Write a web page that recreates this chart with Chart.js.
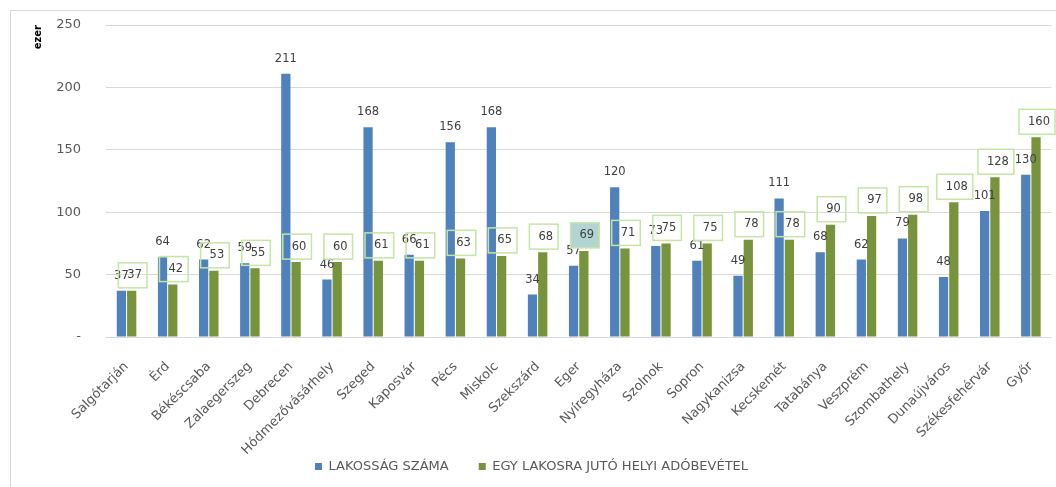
<!DOCTYPE html>
<html>
<head>
<meta charset="utf-8">
<script src="https://cdn.jsdelivr.net/npm/chart.js@4.4.1/dist/chart.umd.min.js"></script>
<style>
  body { margin: 0; background: #fff; }
  .frame {
    position: absolute; left: 10px; top: 10px; width: 1046px; height: 477px;
    border-left: 1px solid #d9d9d9; border-top: 1px solid #d9d9d9;
  }
  canvas { display: block; }
</style>
</head>
<body>
<div class="frame"><canvas id="chart" width="1045" height="476"></canvas></div>
<script>
const cities = ['Salgótarján', 'Érd', 'Békéscsaba', 'Zalaegerszeg', 'Debrecen', 'Hódmezővásárhely',
  'Szeged', 'Kaposvár', 'Pécs', 'Miskolc', 'Szekszárd', 'Eger', 'Nyíregyháza', 'Szolnok', 'Sopron',
  'Nagykanizsa', 'Kecskemét', 'Tatabánya', 'Veszprém', 'Szombathely', 'Dunaújváros',
  'Székesfehérvár', 'Győr'];
const population = [37, 64, 62, 59, 211, 46, 168, 66, 156, 168, 34, 57, 120, 73, 61, 49, 111, 68, 62, 79, 48, 101, 130];
const taxPerHead = [37, 42, 53, 55, 60, 60, 61, 61, 63, 65, 68, 69, 71, 75, 75, 78, 78, 90, 97, 98, 108, 128, 160];
const yTicks = [0, 50, 100, 150, 200, 250];

const FONT = '"DejaVu Sans", sans-serif';

// value labels: plain above blue bars, boxed above green bars
const barLabels = {
  id: 'barLabels',
  afterLayout(chart) {
    // long rotated city names run past the x box, don't clip them
    chart.scales.x.bottom = chart.height;
  },
  afterDatasetsDraw(chart) {
    const ctx = chart.ctx;
    ctx.save();
    ctx.font = '11.5px ' + FONT;
    ctx.textAlign = 'center';
    ctx.textBaseline = 'middle';
    chart.getDatasetMeta(0).data.forEach((bar, i) => {
      ctx.fillStyle = '#404040';
      ctx.fillText(String(population[i]), bar.x, bar.y - 15);
    });
    chart.getDatasetMeta(1).data.forEach((bar, i) => {
      const txt = String(taxPerHead[i]);
      const w = ctx.measureText(txt).width + 14;
      const h = 25;
      const x = bar.x - w / 2 + 1;
      const y = bar.y - 3 - h;
      if (cities[i] === 'Eger') {
        ctx.fillStyle = '#b2d5d3';
        ctx.fillRect(x, y, w, h);
      }
      ctx.strokeStyle = '#c5e5a5';
      ctx.lineWidth = 1.5;
      ctx.strokeRect(x, y, w, h);
      ctx.fillStyle = '#404040';
      ctx.fillText(txt, x + w / 2 + 2, y + h / 2);
    });
    ctx.restore();
  }
};

new Chart(document.getElementById('chart'), {
  type: 'bar',
  data: {
    labels: cities,
    datasets: [
      {
        label: 'LAKOSSÁG SZÁMA',
        data: population,
        backgroundColor: '#4f81bd',
        categoryPercentage: 0.5,
        barPercentage: 0.9
      },
      {
        label: 'EGY LAKOSRA JUTÓ HELYI ADÓBEVÉTEL',
        data: taxPerHead,
        backgroundColor: '#77933c',
        categoryPercentage: 0.5,
        barPercentage: 0.9
      }
    ]
  },
  options: {
    responsive: false,
    animation: false,
    layout: { padding: { top: 14, right: 4, left: 0, bottom: 4 } },
    plugins: {
      legend: {
        position: 'bottom',
        labels: {
          boxWidth: 7, boxHeight: 7, padding: 30,
          color: '#595959',
          font: { family: FONT, size: 13 }
        }
      },
      tooltip: { enabled: false }
    },
    scales: {
      x: {
        grid: { display: false },
        border: { display: false },
        ticks: {
          minRotation: 45, maxRotation: 45,
          color: '#595959',
          font: { family: FONT, size: 13 },
          padding: 14
        },
        afterFit(scale) { scale.height = 93; }
      },
      y: {
        min: 0, max: 250,
        afterBuildTicks(scale) { scale.ticks = yTicks.map(v => ({ value: v })); },
        grid: { color: '#d9d9d9', drawTicks: false },
        border: { display: false },
        ticks: {
          color: '#595959',
          font: { family: FONT, size: 13 },
          padding: 25,
          callback: v => v === 0 ? '-' : v
        },
        title: {
          display: true, text: 'ezer', align: 'end',
          color: '#000', padding: { top: 21, bottom: 0 },
          font: { family: FONT, size: 10, weight: 'bold' }
        },
        afterFit(scale) {
          scale.width = 95;
          scale.paddingTop = 7;
          scale.paddingBottom = 7;
        }
      }
    }
  },
  plugins: [barLabels]
});
</script>
</body>
</html>
